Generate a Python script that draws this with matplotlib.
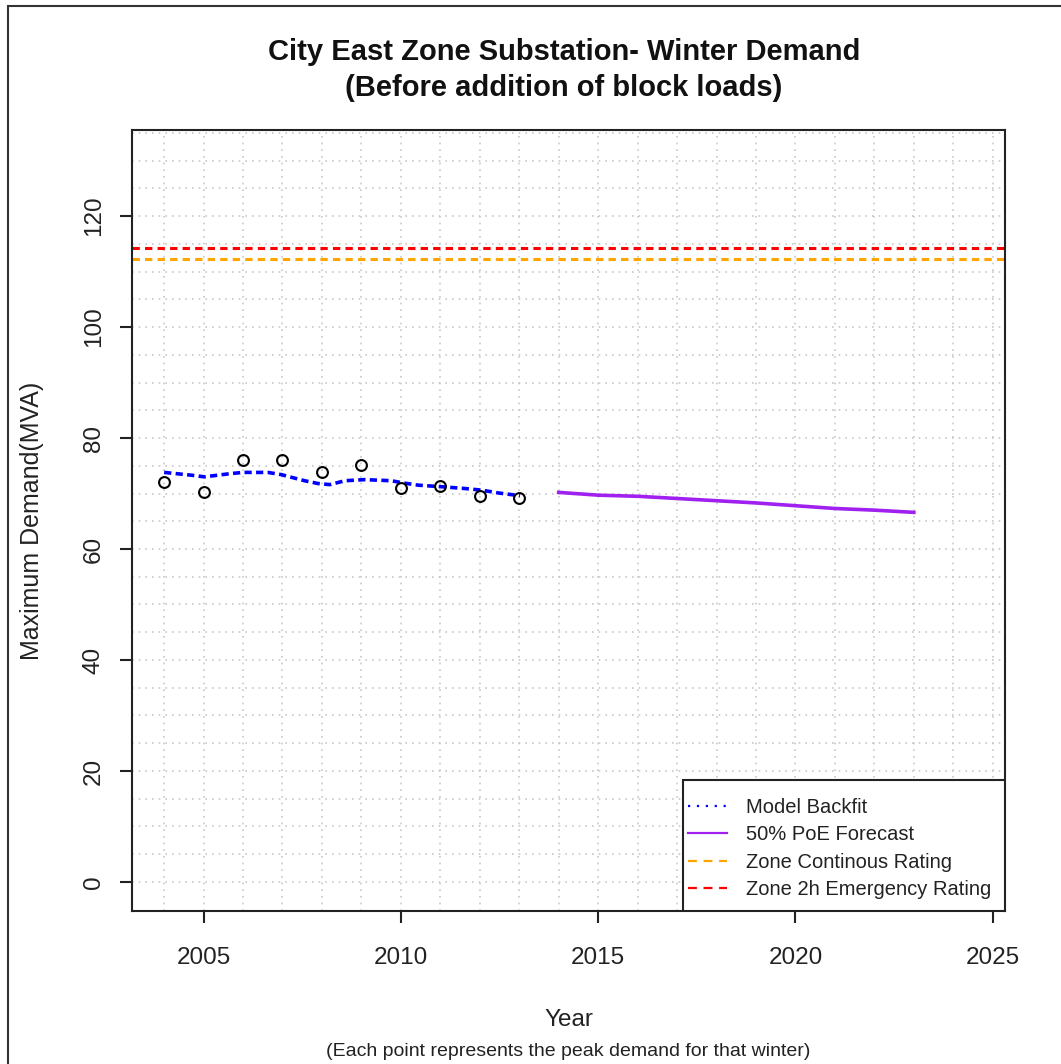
import matplotlib
matplotlib.use('Agg')
import matplotlib.pyplot as plt
from matplotlib.patches import Rectangle

plt.rcParams['font.family'] = ['Liberation Sans', 'DejaVu Sans']

# pico de demanda observado em cada inverno
anos = [2004, 2005, 2006, 2007, 2008, 2009, 2010, 2011, 2012, 2013]
demanda = [72.1, 70.2, 76.0, 76.0, 73.9, 75.1, 71.0, 71.4, 69.5, 69.1]

# ajuste do modelo (backfit)
backfit_x = [2004.0, 2004.69, 2005.02, 2005.7, 2006.0, 2006.63, 2006.97, 2007.56, 2007.9, 2008.2,
             2008.58, 2009.08, 2009.76, 2010.06, 2010.44, 2011.07, 2011.62, 2012.05, 2012.47, 2013.02]
backfit_y = [73.8, 73.3, 73.0, 73.6, 73.8, 73.8, 73.4, 72.3, 71.8, 71.6,
             72.3, 72.5, 72.3, 71.9, 71.5, 71.2, 70.9, 70.6, 70.1, 69.6]

# previsao 50% PoE
previsao_x = [2014, 2015, 2016, 2017, 2018, 2019, 2020, 2021, 2022, 2023]
previsao_y = [70.2, 69.7, 69.5, 69.1, 68.7, 68.3, 67.8, 67.3, 67.0, 66.6]

rating_continuo = 112.2
rating_emergencia = 114.3

x_ticks = [2005, 2010, 2015, 2020, 2025]
y_ticks = [0, 20, 40, 60, 80, 100, 120]

fig = plt.figure(figsize=(10.61, 10.64), dpi=100)
W, H = 1061, 1064
ax = fig.add_axes([132 / W, 1 - 911 / H, (1005 - 132) / W, (911 - 130) / H])

ax.set_xlim(2003.186, 2025.31)
ax.set_ylim(-5.23, 135.5)

# grade pontilhada
for a in range(2004, 2026):
    ax.axvline(a, color='#c8c8c8', linestyle=(0, (1, 3)), linewidth=1.2, zorder=0)
for v in range(0, 136, 5):
    ax.axhline(v, color='#c8c8c8', linestyle=(0, (1, 3)), linewidth=1.2, zorder=0)

ax.axhline(rating_emergencia, color='#FF0000', linewidth=2.2, dashes=(2.4, 1.7), zorder=2)
ax.axhline(rating_continuo, color='#FFA500', linewidth=2.2, dashes=(2.4, 1.7), zorder=2)

ax.plot(backfit_x, backfit_y, color='#0000FF', linewidth=2.6, dashes=(2.0, 1.2), zorder=3)
ax.plot(previsao_x, previsao_y, color='#A020F0', linewidth=2.6, zorder=3)
ax.plot(anos, demanda, linestyle='none', marker='o', markersize=7.8, markerfacecolor='none',
        markeredgecolor='black', markeredgewidth=1.5, zorder=4)

ax.set_xticks(x_ticks)
ax.set_yticks(y_ticks)
ax.set_xticklabels([str(t) for t in x_ticks])
ax.set_yticklabels([str(t) for t in y_ticks], rotation=90, va='center')
ax.tick_params(direction='out', length=8.6, width=1.5, color='#222222', labelsize=17.5,
               labelcolor='#222222')
ax.tick_params(axis='x', pad=17)
ax.tick_params(axis='y', pad=11)
for s in ax.spines.values():
    s.set_linewidth(1.5)
    s.set_color('#222222')

ax.set_xlabel('Year', fontsize=17.5, color='#222222')
ax.set_ylabel('Maximum Demand(MVA)', fontsize=18, color='#222222')
ax.xaxis.set_label_coords(0.5, -0.1255)
ax.yaxis.set_label_coords(-0.101, 0.5)

fig.text(564 / W, 1 - 52 / H, 'City East Zone Substation- Winter Demand',
         fontsize=21, fontweight='bold', color='#111111', ha='center', va='center')
fig.text(564 / W, 1 - 88 / H, '(Before addition of block loads)',
         fontsize=21, fontweight='bold', color='#111111', ha='center', va='center')

fig.text(568 / W, 1 - 1052 / H, '(Each point represents the peak demand for that winter)',
         fontsize=14, ha='center', va='center', color='#222222')

# legenda com moldura manual
lx0 = (683 - 132) / (1005 - 132)
ly1 = (911 - 780) / (911 - 130)
ax.add_patch(Rectangle((lx0, 0), 1 - lx0, ly1, transform=ax.transAxes, facecolor='white',
                       edgecolor='#222222', linewidth=1.5, zorder=5))
handles = [
    plt.Line2D([], [], color='#0000FF', linewidth=1.6, linestyle=(0, (1, 3))),
    plt.Line2D([], [], color='#A020F0', linewidth=1.6),
    plt.Line2D([], [], color='#FFA500', linewidth=1.6, linestyle=(0, (4, 3))),
    plt.Line2D([], [], color='#FF0000', linewidth=1.6, linestyle=(0, (4, 3))),
]
labels = ['Model Backfit', '50% PoE Forecast', 'Zone Continous Rating', 'Zone 2h Emergency Rating']
leg = fig.legend(handles, labels, loc='upper left', bbox_to_anchor=(684 / W, 1 - 794 / H),
                 frameon=False, fontsize=14.5, handlelength=1.95, handletextpad=0.95,
                 labelspacing=0.42, borderpad=0.2, borderaxespad=0)
leg.set_zorder(6)
for t in leg.get_texts():
    t.set_color('#222222')

# moldura externa da imagem
fig.add_artist(Rectangle((8 / W, -0.1), 1.2, 1 - 6 / H + 0.1, transform=fig.transFigure,
                         fill=False, edgecolor='#333333', linewidth=1.5))

fig.savefig('out.png', dpi=100)
